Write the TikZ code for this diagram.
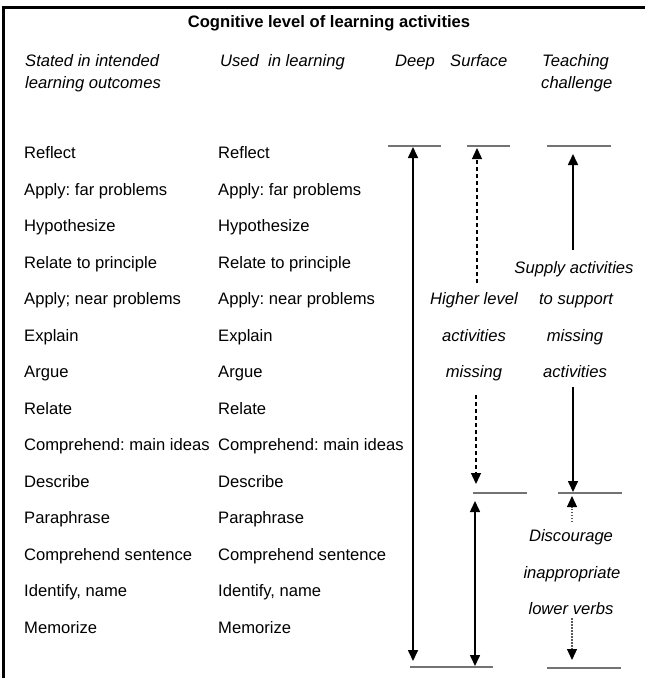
\documentclass[tikz,border=0pt]{standalone}
\usepackage{fontspec}
\setmainfont{Liberation Sans}
\usetikzlibrary{arrows.meta}
\frenchspacing
\begin{document}
\begin{tikzpicture}[x=1pt,y=-1pt,
  txt/.style={font=\fontsize{16.6}{20}\selectfont, inner sep=0pt, anchor=base west},
  itx/.style={font=\fontsize{16.6}{20}\selectfont\itshape, inner sep=0pt, anchor=base},
  ith/.style={font=\fontsize{16.6}{20}\selectfont\itshape, inner sep=0pt, anchor=base west},
  rule/.style={draw=black!55, line width=1.3pt},
  frame/.style={draw=black, line width=3pt},
  arr/.style={line width=1.6pt, -{Triangle[width=10pt,length=11pt]}},
  darr/.style={line width=1.6pt, {Triangle[width=10pt,length=11pt]}-{Triangle[width=10pt,length=11pt]}},
  dasharr/.style={line width=1.3pt, dash pattern=on 4pt off 3pt, -{Triangle[width=10pt,length=11pt]}},
  dotarr/.style={line width=1.2pt, draw=black!65, dash pattern=on 1.5pt off 1.5pt, -{Triangle[width=10pt,length=11pt,color=black]}}
]
\useasboundingbox (0,0) rectangle (645,678);
% frame
\coordinate (fBL) at (3,678);
\coordinate (fTL) at (3,7);
\coordinate (fTR) at (645,7);
\draw[frame] (fBL) -- (fTL) -- (fTR);

% title and headers
\node[font=\fontsize{16.6}{20}\selectfont\bfseries, inner sep=0pt, anchor=base] (title) at (329,27) {Cognitive level of learning activities};
\node[ith] (h1a) at (25,66) {Stated in intended};
\node[ith] (h1b) at (25,88) {learning outcomes};
\node[ith] (h2) at (220,66) {Used\ \ in learning};
\node[ith] (h3) at (395,66) {Deep};
\node[ith] (h4) at (450,66) {Surface};
\node[ith] (h5a) at (542,66) {Teaching};
\node[ith] (h5b) at (541,88) {challenge};

% rows
\foreach \i/\a/\b in {0/Reflect/Reflect,
  1/Apply: far problems/Apply: far problems,
  2/Hypothesize/Hypothesize,
  3/Relate to principle/Relate to principle,
  4/Apply; near problems/Apply: near problems,
  5/Explain/Explain,
  6/Argue/Argue,
  7/Relate/Relate,
  8/Comprehend: main ideas/Comprehend: main ideas,
  9/Describe/Describe,
  10/Paraphrase/Paraphrase,
  11/Comprehend sentence/Comprehend sentence,
  12/{Identify, name}/{Identify, name},
  13/Memorize/Memorize}{
  \node[txt] (a\i) at (24,158.5+36.5*\i) {\a};
  \node[txt] (b\i) at (218,158.5+36.5*\i) {\b};
}

% horizontal rules
\coordinate (dTL) at (388,146); \coordinate (dTR) at (441,146);
\coordinate (sTL) at (467,146); \coordinate (sTR) at (510,146);
\coordinate (tTL) at (547,146); \coordinate (tTR) at (611,146);
\coordinate (sML) at (473,493); \coordinate (sMR) at (527,493);
\coordinate (tML) at (558,493); \coordinate (tMR) at (622,493);
\coordinate (bL) at (410,667); \coordinate (bR) at (493,667);
\coordinate (tBL) at (547,668); \coordinate (tBR) at (621,668);
\draw[rule] (dTL) -- (dTR);
\draw[rule] (sTL) -- (sTR);
\draw[rule] (tTL) -- (tTR);
\draw[rule] (sML) -- (sMR);
\draw[rule] (tML) -- (tMR);
\draw[rule] (bL) -- (bR);
\draw[rule] (tBL) -- (tBR);

% deep arrow
\coordinate (dTop) at (413,147);
\coordinate (dBot) at (413,661);
\draw[darr] (dTop) -- (dBot);

% surface labels
\node[itx] (hl1) at (474,304.5) {Higher level};
\node[itx] (hl2) at (474,341) {activities};
\node[itx] (hl3) at (474,377.5) {missing};
\coordinate (sUp0) at (477,283); \coordinate (sUp1) at (477,148);
\coordinate (sDn0) at (476,395); \coordinate (sDn1) at (476,484);
\draw[dasharr] (sUp0) -- (sUp1);
\draw[dasharr] (sDn0) -- (sDn1);
\coordinate (sLo0) at (475,501); \coordinate (sLo1) at (475,666);
\draw[darr] (sLo0) -- (sLo1);

% teaching labels
\node[itx] (t1) at (574,273) {Supply activities};
\node[itx] (t2) at (576,304.5) {to support};
\node[itx] (t3) at (575,341) {missing};
\node[itx] (t4) at (575,377.5) {activities};
\coordinate (tUp0) at (573,250); \coordinate (tUp1) at (573,154);
\coordinate (tDn0) at (573,387); \coordinate (tDn1) at (573,492);
\draw[arr] (tUp0) -- (tUp1);
\draw[arr] (tDn0) -- (tDn1);

\node[itx] (u1) at (571,541) {Discourage};
\node[itx] (u2) at (572,578) {inappropriate};
\node[itx] (u3) at (571,614) {lower verbs};
\coordinate (uUp0) at (572,522); \coordinate (uUp1) at (572,496);
\coordinate (uDn0) at (572,618); \coordinate (uDn1) at (572,660);
\draw[dotarr] (uUp0) -- (uUp1);
\draw[dotarr] (uDn0) -- (uDn1);
\end{tikzpicture}
\end{document}
